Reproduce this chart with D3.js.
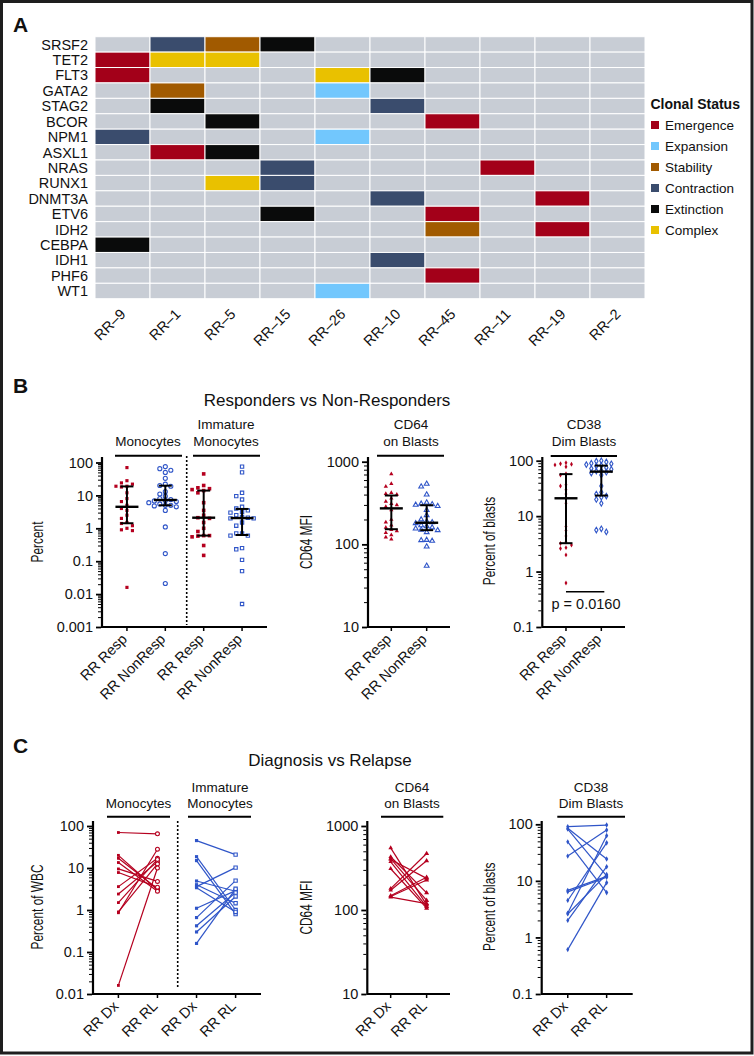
<!DOCTYPE html>
<html><head><meta charset="utf-8">
<script src="https://cdn.jsdelivr.net/npm/d3@7"></script>
<style>
body{margin:0;background:#fff}
svg{display:block}
text{font-family:"Liberation Sans",Arial,Helvetica,sans-serif;fill:#111}
</style></head><body>
<svg id="c" width="754" height="1056"></svg>
<script>
// ---------- DATA ----------
const genes=["SRSF2","TET2","FLT3","GATA2","STAG2","BCOR","NPM1","ASXL1","NRAS","RUNX1","DNMT3A","ETV6","IDH2","CEBPA","IDH1","PHF6","WT1"];
const samples=["RR–9","RR–1","RR–5","RR–15","RR–26","RR–10","RR–45","RR–11","RR–19","RR–2"];
const statuses=["Emergence","Expansion","Stability","Contraction","Extinction","Complex"];
const mutations=[
 ["SRSF2","RR–1","Contraction"],["SRSF2","RR–5","Stability"],["SRSF2","RR–15","Extinction"],
 ["TET2","RR–9","Emergence"],["TET2","RR–1","Complex"],["TET2","RR–5","Complex"],
 ["FLT3","RR–9","Emergence"],["FLT3","RR–26","Complex"],["FLT3","RR–10","Extinction"],
 ["GATA2","RR–1","Stability"],["GATA2","RR–26","Expansion"],
 ["STAG2","RR–1","Extinction"],["STAG2","RR–10","Contraction"],
 ["BCOR","RR–5","Extinction"],["BCOR","RR–45","Emergence"],
 ["NPM1","RR–9","Contraction"],["NPM1","RR–26","Expansion"],
 ["ASXL1","RR–1","Emergence"],["ASXL1","RR–5","Extinction"],
 ["NRAS","RR–15","Contraction"],["NRAS","RR–11","Emergence"],
 ["RUNX1","RR–5","Complex"],["RUNX1","RR–15","Contraction"],
 ["DNMT3A","RR–10","Contraction"],["DNMT3A","RR–19","Emergence"],
 ["ETV6","RR–15","Extinction"],["ETV6","RR–45","Emergence"],
 ["IDH2","RR–45","Stability"],["IDH2","RR–19","Emergence"],
 ["CEBPA","RR–9","Extinction"],
 ["IDH1","RR–10","Contraction"],
 ["PHF6","RR–45","Emergence"],
 ["WT1","RR–26","Expansion"]
];

const respLabels=["RR Resp","RR NonResp"];
const pairLabels=["RR Dx","RR RL"];

// Panel B (responders vs non-responders)
const monoResp=[0.016,0.85,0.9,1.0,1.2,1.4,1.5,2,2.5,3.5,4,5,6.5,8,12,18,19,19,22,24,28,70];
const monoNonResp=[0.021,0.17,1.1,3.5,4.5,4.8,5,5,5.5,6,6.5,6.8,7,7.5,8,9.5,11,13,19,20,22,33,50,58,65,75];
const immResp=[0.15,0.3,0.55,0.58,0.6,0.6,0.8,1.0,1.5,2,2.1,2.5,3.5,6,12,14,15,16,17,20,45];
const immNonResp=[0.005,0.05,0.11,0.23,0.25,0.6,0.6,0.7,0.7,1.2,1.5,2,2,2.1,2.2,2.5,3,3.2,3.5,4,4.5,7.5,9.5,12,50,75];
const cd64Resp=[115,122,130,138,145,150,160,170,185,200,260,285,300,310,330,360,400,410,420,500,540,710];
const cd64NonResp=[55,94,110,112,113,140,148,150,155,160,165,170,180,185,190,200,225,260,290,300,305,310,320,400,500,540];
const cd38Resp=[0.62,2.0,2.6,2.7,3.0,3.2,3.4,4.4,5.5,6.5,17,25,30,35,37,55,58,78,84,86,88,92];
const cd38NonResp=[5.2,5.6,5.9,17,20,22,23,25,27,35,55,60,62,65,66,70,72,75,80,82,85,88,90,95,98,100];
const pValue="p = 0.0160";

// Panel C (diagnosis vs relapse, paired)
const monoDx=[70,20,17,13.5,9.5,7.8,3.6,2.4,1.5,0.9,0.86,0.016];
const monoRL=[65,3.0,3.2,2.8,4.8,3.5,17,14,16,12.5,28,10];
const immDx=[45,18.6,15,4.9,4.0,3.6,3.4,1.1,0.66,0.42,0.3,0.16];
const immRL=[20.8,1.0,0.8,2.8,1.45,10.2,0.9,2.9,5.0,2.6,2.1,3.2];
const cd64Dx=[550,430,410,400,375,310,180,172,148,145,142];
const cd64RL=[115,160,130,238,110,105,470,385,245,228,119];
const cd38Dx=[91,85,82,49,27.5,6.8,6.4,4.5,2.7,2.6,2.0,0.61];
const cd38RL=[97,24.4,12.3,6.2,79,12,11.6,47,63,13,17.8,9.3];

// ---------- DRAWING ----------
const svg=d3.select("#c");
const RED="#B5001F", BLUE="#2F55C8";

svg.append("rect").attr("width",754).attr("height",1056).attr("fill","#fff");
svg.append("rect").attr("x",1.5).attr("y",1.5).attr("width",750.5).attr("height",1051.5)
  .attr("fill","none").attr("stroke","#1e1e1e").attr("stroke-width",3);

[["A",13,32],["B",13,393],["C",13,753]].forEach(([t,x,y])=>{
  svg.append("text").attr("x",x).attr("y",y).text(t).style("font-size","21px").style("font-weight","bold");
});

// ----- Panel A heatmap -----
const hx=d3.scaleBand().domain(samples).range([95,645]);
const hy=d3.scaleBand().domain(genes).range([36.7,298.7]);
const statusOf=new Map(mutations.map(m=>[m[0]+"|"+m[1],m[2]]));
const col=d3.scaleOrdinal().domain(statuses).range(["#A30019","#72C7FD","#A15A00","#3A4C6D","#0A0B0B","#E9C100"]);
const cells=[];
genes.forEach(g=>samples.forEach(s=>cells.push({g,s,st:statusOf.get(g+"|"+s)})));
svg.append("g").selectAll("rect").data(cells).join("rect")
  .attr("x",d=>hx(d.s)).attr("y",d=>hy(d.g))
  .attr("width",hx.bandwidth()).attr("height",hy.bandwidth())
  .attr("fill",d=>d.st?col(d.st):"#C8CDD5").attr("stroke","#fff").attr("stroke-width",1);
svg.append("g").selectAll("text").data(genes).join("text")
  .attr("x",88).attr("y",d=>hy(d)+hy.bandwidth()/2).attr("dy","0.36em")
  .attr("text-anchor","end").style("font-size","14.5px").text(d=>d);
svg.append("g").selectAll("text").data(samples).join("text")
  .attr("transform",d=>`translate(${hx(d)+hx.bandwidth()/2+4},315) rotate(-45)`)
  .attr("text-anchor","end").style("font-size","14.5px").text(d=>d);
// legend
svg.append("text").attr("x",650.5).attr("y",108.7).text("Clonal Status").style("font-size","14px").style("font-weight","bold");
statuses.forEach((s,i)=>{
  const cy=125+i*21;
  svg.append("rect").attr("x",651).attr("y",cy-4).attr("width",8).attr("height",8).attr("fill",col(s));
  svg.append("text").attr("x",665).attr("y",cy).attr("dy","0.36em").style("font-size","13.5px").text(s);
});

// ----- helpers -----
function logPanel(o){
  const y=d3.scaleLog().domain(o.domain).range([o.yBottom,o.yTop]);
  const x=d3.scalePoint().domain(o.cats).range([o.x0,o.xEnd]).padding(o.padding);
  svg.append("path").attr("d",`M${o.x0},${o.axisTop}V${o.yBottom}H${o.xEnd}`)
    .attr("fill","none").attr("stroke","#000").attr("stroke-width",2.2);
  const majors=[]; for(let v=o.domain[0]; v<=o.domain[1]*1.001; v*=10) majors.push(+v.toPrecision(3));
  const ga=svg.append("g").attr("transform",`translate(${o.x0-1},0)`)
    .call(d3.axisLeft(y).tickValues(majors).tickFormat(d=>String(d)).tickSize(5).tickPadding(3));
  ga.select(".domain").remove();
  ga.selectAll("line").attr("stroke","#000").attr("stroke-width",1.8);
  ga.selectAll("text").style("font-size","14.5px").attr("fill","#111");
  const minors=[]; majors.slice(0,-1).forEach(m=>{for(let k=2;k<10;k++) minors.push(m*k)});
  const gm=svg.append("g").attr("transform",`translate(${o.x0-1},0)`)
    .call(d3.axisLeft(y).tickValues(minors).tickFormat("").tickSize(3));
  gm.select(".domain").remove();
  gm.selectAll("line").attr("stroke","#000").attr("stroke-width",1);
  o.cats.forEach((c,i)=>{
    svg.append("line").attr("x1",x(c)).attr("x2",x(c)).attr("y1",o.yBottom).attr("y2",o.yBottom+4)
      .attr("stroke","#000").attr("stroke-width",1.5);
    svg.append("text").attr("transform",`translate(${x(c)+1},${o.yBottom+13}) rotate(-45)`)
      .attr("text-anchor","end").style("font-size","14.5px").text(o.labels[i]);
  });
  svg.append("text")
    .attr("transform",`translate(${o.ylabX},${o.ylabY}) rotate(-90) scale(0.72,1)`)
    .attr("text-anchor","middle").style("font-size","16.5px").text(o.ylabel);
  return {x,y};
}
function header(lines,cx,y1,y2,lx1,lx2,ly){
  lines.forEach((t,i)=>{
    const yy = lines.length===2 ? (i===0?y1:y2) : y2;
    svg.append("text").attr("x",cx).attr("y",yy).attr("text-anchor","middle").style("font-size","13.5px").text(t);
  });
  svg.append("line").attr("x1",lx1).attr("x2",lx2).attr("y1",ly).attr("y2",ly).attr("stroke","#000").attr("stroke-width",2);
}
function symPath(type,size){return d3.symbol().type(type).size(size)();}
function scatter(vals,cx,y,type,size,color,filled,step,minDist){
  const pts=vals.map(v=>({v,py:y(v)})).sort((a,b)=>a.py-b.py);
  const placed=[];
  pts.forEach(p=>{
    for(let k=0;k<30;k++){
      const off=(k===0?0:(k%2?-1:1)*Math.ceil(k/2))*step;
      if(!placed.some(q=>Math.abs(q.off-off)<step*0.9&&Math.abs(q.py-p.py)<minDist)){p.off=off;placed.push(p);break;}
    }
  });
  svg.append("g").selectAll("path").data(placed).join("path")
    .attr("d",symPath(type,size)).attr("transform",d=>`translate(${cx+d.off},${d.py})`)
    .attr("fill",filled?color:"#fff").attr("stroke",color).attr("stroke-width",filled?0:1.1);
}
function bars(vals,cx,y){
  const s=vals.slice().sort(d3.ascending);
  const med=d3.quantileSorted(s,0.5), q1=d3.quantileSorted(s,0.25), q3=d3.quantileSorted(s,0.75);
  const g=svg.append("g").attr("stroke","#000").attr("stroke-width",2);
  g.append("line").attr("x1",cx).attr("x2",cx).attr("y1",y(q1)).attr("y2",y(q3));
  g.append("line").attr("x1",cx-6.5).attr("x2",cx+6.5).attr("y1",y(q1)).attr("y2",y(q1));
  g.append("line").attr("x1",cx-6.5).attr("x2",cx+6.5).attr("y1",y(q3)).attr("y2",y(q3));
  g.append("line").attr("x1",cx-11.5).attr("x2",cx+11.5).attr("y1",y(med)).attr("y2",y(med)).attr("stroke-width",2.4);
}
function paired(dx,rl,x,y,cA,cB,color,typeA,sizeA,filledA,typeB,sizeB,filledB){
  const g=svg.append("g");
  dx.forEach((v,i)=>{
    g.append("line").attr("x1",x(cA)).attr("y1",y(v)).attr("x2",x(cB)).attr("y2",y(rl[i]))
      .attr("stroke",color).attr("stroke-width",1.2);
  });
  dx.forEach(v=>g.append("path").attr("d",symPath(typeA,sizeA)).attr("transform",`translate(${x(cA)},${y(v)})`)
    .attr("fill",filledA?color:"#fff").attr("stroke",color).attr("stroke-width",filledA?0:1.1));
  rl.forEach(v=>g.append("path").attr("d",symPath(typeB,sizeB)).attr("transform",`translate(${x(cB)},${y(v)})`)
    .attr("fill",filledB?color:"#fff").attr("stroke",color).attr("stroke-width",filledB?0:1.1));
}

// ----- Panel B -----
svg.append("text").attr("x",327).attr("y",406).attr("text-anchor","middle").style("font-size","17px").text("Responders vs Non-Responders");

const b1=logPanel({x0:102,xEnd:267,yBottom:627,yTop:462.5,axisTop:457,domain:[0.001,100],
  cats:["m0","m1","i0","i1"],labels:[respLabels[0],respLabels[1],respLabels[0],respLabels[1]],padding:0.65,
  ylabel:"Percent",ylabX:43,ylabY:542});
header(["Monocytes"],148,429,446,115,182,455.7);
header(["Immature","Monocytes"],226,429,446,193,260,455.7);
svg.append("line").attr("x1",186.7).attr("x2",186.7).attr("y1",456).attr("y2",625)
  .attr("stroke","#000").attr("stroke-width",1.6).attr("stroke-dasharray","2,2");
scatter(monoResp,b1.x("m0"),b1.y,d3.symbolSquare,10,RED,true,5.5,3.8);
scatter(monoNonResp,b1.x("m1"),b1.y,d3.symbolCircle,13,BLUE,false,5.5,4.2);
scatter(immResp,b1.x("i0"),b1.y,d3.symbolSquare,13,RED,true,5.8,4.2);
scatter(immNonResp,b1.x("i1"),b1.y,d3.symbolSquare,11,BLUE,false,5.8,4.4);
bars(monoResp,b1.x("m0"),b1.y); bars(monoNonResp,b1.x("m1"),b1.y);
bars(immResp,b1.x("i0"),b1.y); bars(immNonResp,b1.x("i1"),b1.y);

const b2=logPanel({x0:368,xEnd:450,yBottom:627,yTop:461.7,axisTop:457,domain:[10,1000],
  cats:["r","n"],labels:respLabels,padding:0.66,ylabel:"CD64 MFI",ylabX:311.5,ylabY:542});
header(["CD64","on Blasts"],411,429,446,377,444,455.7);
scatter(cd64Resp,b2.x("r"),b2.y,d3.symbolTriangle,8,RED,true,5.5,4);
scatter(cd64NonResp,b2.x("n"),b2.y,d3.symbolTriangle,10,BLUE,false,5.5,4.4);
bars(cd64Resp,b2.x("r"),b2.y); bars(cd64NonResp,b2.x("n"),b2.y);

const b3=logPanel({x0:542.3,xEnd:625,yBottom:627,yTop:460.7,axisTop:457,domain:[0.1,100],
  cats:["r","n"],labels:respLabels,padding:0.67,ylabel:"Percent of blasts",ylabX:494.5,ylabY:541});
header(["CD38","Dim Blasts"],584,429,446,550.7,617,456);
scatter(cd38Resp,b3.x("r"),b3.y,d3.symbolDiamond,7,RED,true,5.5,3.8);
scatter(cd38NonResp,b3.x("n"),b3.y,d3.symbolDiamond,9,BLUE,false,5,4.2);
bars(cd38Resp,b3.x("r"),b3.y); bars(cd38NonResp,b3.x("n"),b3.y);
svg.append("line").attr("x1",b3.x("r")).attr("x2",b3.x("n")+3).attr("y1",591.7).attr("y2",591.7).attr("stroke","#000").attr("stroke-width",1.5);
svg.append("text").attr("x",586).attr("y",609).attr("text-anchor","middle").style("font-size","14.5px").text(pValue);

// ----- Panel C -----
svg.append("text").attr("x",330).attr("y",766).attr("text-anchor","middle").style("font-size","17px").text("Diagnosis vs Relapse");

const c1=logPanel({x0:93,xEnd:261,yBottom:994,yTop:826,axisTop:821,domain:[0.01,100],
  cats:["m0","m1","i0","i1"],labels:[pairLabels[0],pairLabels[1],pairLabels[0],pairLabels[1]],padding:0.65,
  ylabel:"Percent of WBC",ylabX:43.3,ylabY:907});
header(["Monocytes"],138.5,791.7,808,107,170,816.7);
header(["Immature","Monocytes"],220,791.7,808,188,251,816.7);
svg.append("line").attr("x1",177.7).attr("x2",177.7).attr("y1",821).attr("y2",987)
  .attr("stroke","#000").attr("stroke-width",1.6).attr("stroke-dasharray","2,2");
paired(monoDx,monoRL,c1.x,c1.y,"m0","m1",RED,d3.symbolSquare,8,true,d3.symbolCircle,12,false);
paired(immDx,immRL,c1.x,c1.y,"i0","i1",BLUE,d3.symbolSquare,10,true,d3.symbolSquare,11,false);

const c2=logPanel({x0:367.3,xEnd:450,yBottom:994,yTop:826,axisTop:821,domain:[10,1000],
  cats:["d","r"],labels:pairLabels,padding:0.65,ylabel:"CD64 MFI",ylabX:311.7,ylabY:907.5});
header(["CD64","on Blasts"],412,791.7,808,381,443.3,816.7);
paired(cd64Dx,cd64RL,c2.x,c2.y,"d","r",RED,d3.symbolTriangle,9,true,d3.symbolTriangle,11,true);

const c3=logPanel({x0:541.7,xEnd:632.7,yBottom:994,yTop:824.3,axisTop:821,domain:[0.1,100],
  cats:["d","r"],labels:pairLabels,padding:0.67,ylabel:"Percent of blasts",ylabX:494.5,ylabY:906.7});
header(["CD38","Dim Blasts"],591,791.7,808,557.3,625,816.7);
paired(cd38Dx,cd38RL,c3.x,c3.y,"d","r",BLUE,d3.symbolDiamond,8,true,d3.symbolDiamond,9,true);
</script>
</body></html>
